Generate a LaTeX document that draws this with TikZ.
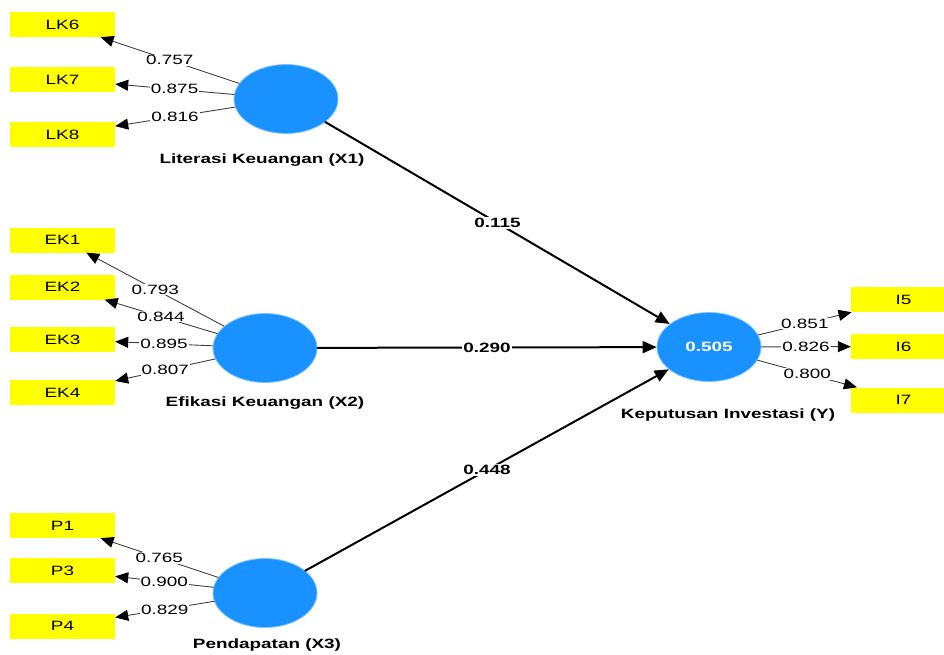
\documentclass[tikz,border=0pt]{standalone}
\usepackage{fontspec}
\setmainfont[FakeStretch=1.4]{Liberation Sans}
\usetikzlibrary{arrows.meta,shapes.geometric}
\definecolor{LVfill}{RGB}{25,145,255}
\definecolor{MVfill}{RGB}{255,255,0}

\begin{document}
\begin{tikzpicture}[x=1pt,y=-1pt,line cap=round,line join=round,
  latent/.style={ellipse,fill=LVfill,draw=LVfill!55!white,line width=0.8pt,minimum width=104pt,minimum height=69pt,inner sep=0pt,text=white,font=\bfseries\fontsize{13.5}{15}\selectfont},
  indicator/.style={rectangle,fill=MVfill,minimum width=105pt,minimum height=25pt,inner sep=0pt,font=\fontsize{13.5}{15}\selectfont},
  lvname/.style={font=\bfseries\fontsize{13.5}{15}\selectfont},
  loading/.style={draw=black!75,line width=0.9pt,-{Triangle[length=13pt,width=11pt,color=black]}},
  pathcoef/.style={draw=black,line width=2pt,-{Triangle[length=14pt,width=12pt]}},
  wlbl/.style={fill=white,inner sep=1pt,font=\fontsize{13.5}{15}\selectfont},
  plbl/.style={fill=white,inner sep=1.5pt,font=\bfseries\fontsize{13.5}{15}\selectfont}]
\useasboundingbox (0,0) rectangle (944,655);
\clip (0,0) rectangle (944,655);
% indicators
\node[indicator] (LK6) at (62.5,24.5) {LK6};
\node[indicator] (LK7) at (62.5,79.5) {LK7};
\node[indicator] (LK8) at (62.5,134.5) {LK8};
\node[indicator] (EK1) at (62.5,240) {EK1};
\node[indicator] (EK2) at (62.5,287) {EK2};
\node[indicator] (EK3) at (62.5,339.5) {EK3};
\node[indicator] (EK4) at (62.5,392.5) {EK4};
\node[indicator] (P1) at (62.5,525.5) {P1};
\node[indicator] (P3) at (62.5,570.5) {P3};
\node[indicator] (P4) at (62.5,626) {P4};
\node[indicator] (I5) at (903.5,299.5) {I5};
\node[indicator] (I6) at (903.5,346.5) {I6};
\node[indicator] (I7) at (903.5,400) {I7};
% constructs
\node[latent] (X1) at (286,99) {};
\node[latent] (X2) at (265,348) {};
\node[latent] (X3) at (265,593) {};
\node[latent] (Y) at (709,347) {0.505};
\node[lvname] (X1name) at (262,160) {Literasi Keuangan (X1)};
\node[lvname] (X2name) at (265,403) {Efikasi Keuangan (X2)};
\node[lvname] (X3name) at (267,645) {Pendapatan (X3)};
\node[lvname] (Yname) at (728,415) {Keputusan Investasi (Y)};
% outer loadings
\draw[loading] (X1) -- node[wlbl] {0.757} (LK6);
\draw[loading] (X1) -- node[wlbl] {0.875} (LK7);
\draw[loading] (X1) -- node[wlbl] {0.816} (LK8);
\draw[loading] (X2) -- node[wlbl] {0.793} (EK1);
\draw[loading] (X2) -- node[wlbl] {0.844} (EK2);
\draw[loading] (X2) -- node[wlbl] {0.895} (EK3);
\draw[loading] (X2) -- node[wlbl] {0.807} (EK4);
\draw[loading] (X3) -- node[wlbl] {0.765} (P1);
\draw[loading] (X3) -- node[wlbl] {0.900} (P3);
\draw[loading] (X3) -- node[wlbl] {0.829} (P4);
\draw[loading] (Y) -- node[wlbl] {0.851} (I5);
\draw[loading] (Y) -- node[wlbl] {0.826} (I6);
\draw[loading] (Y) -- node[wlbl] {0.800} (I7);
% path coefficients
\draw[pathcoef] (X1) -- node[plbl] {0.115} (Y);
\draw[pathcoef] (X2) -- node[plbl] {0.290} (Y);
\draw[pathcoef] (X3) -- node[plbl] {0.448} (Y);
\end{tikzpicture}
\end{document}
